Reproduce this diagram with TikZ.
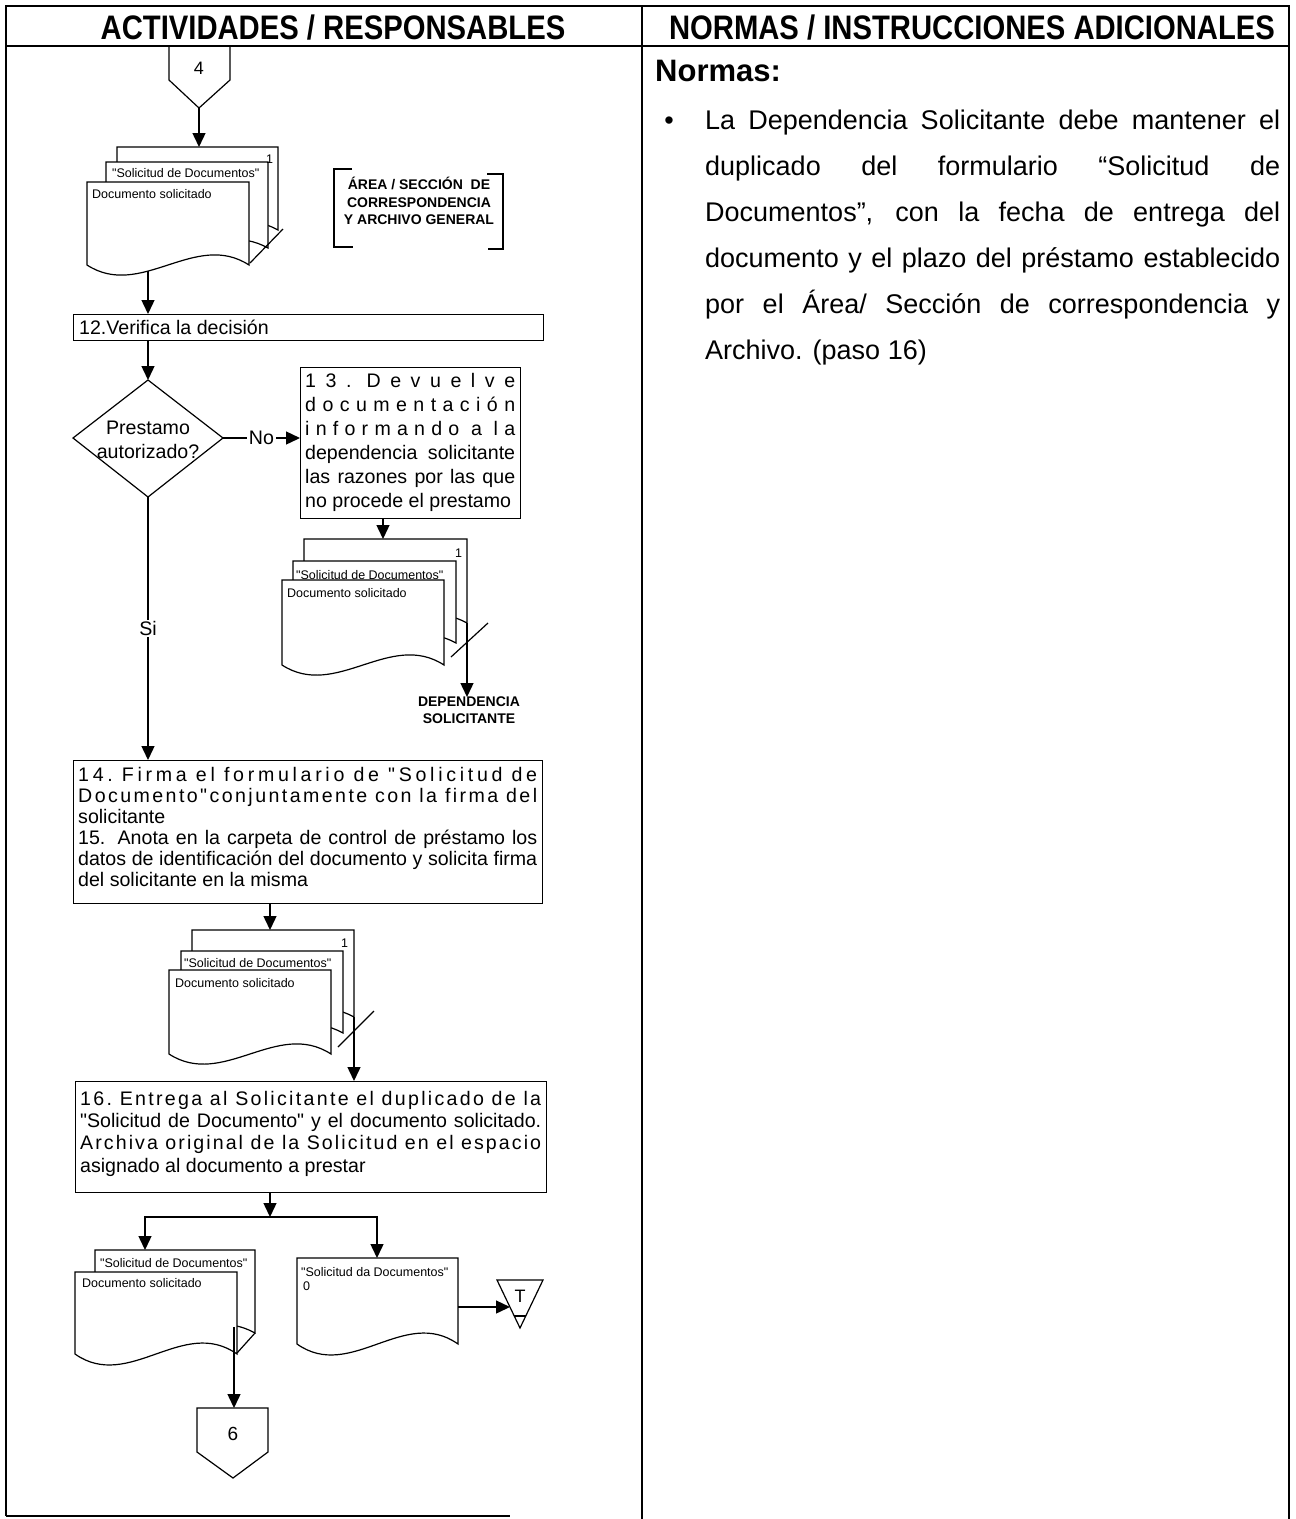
\documentclass[tikz,border=0pt]{standalone}
\usepackage{fontspec}
\setmainfont{Liberation Sans}[Ligatures=TeXOff]
\newfontfamily\hdrfont{Liberation Sans}[FakeStretch=0.86]
\usetikzlibrary{arrows.meta}

\makeatletter
\def\SP@END{\SP@END@}
\let\SP@space=\ %
\def\SP@loop#1{\ifx#1\SP@END\else\ifx#1\SP@space\ \else\hskip0pt plus 1fil\relax#1\fi\expandafter\SP@loop\fi}
\def\SP@first#1{#1\SP@loop}
\newcommand\spreadline[2]{\hbox to #1{\SP@first#2\SP@END}}
\makeatother

\newcommand\docsheet[5]{\draw[sheet] (#1,#2) -- (#1+#3,#2) -- (#1+#3,#4) .. controls (#1+#3*2/3,#4-#5) and (#1+#3/3,#4+#5) .. (#1,#4) -- cycle;}

\tikzset{
 shp/.style={draw, line width=1.2pt},
 box/.style={draw, line width=1.2pt, inner sep=0pt},
 sheet/.style={draw, fill=white, line width=1.2pt},
 arr/.style={-{Triangle[length=14pt,width=13pt]}, line width=1.4pt},
 txt/.style={inner sep=0pt, font=\fontsize{19.6}{21}\selectfont},
 smalltxt/.style={inner sep=0pt, font=\fontsize{12.5}{14}\selectfont, anchor=base west},
 lbl/.style={fill=white, inner sep=1.5pt, font=\fontsize{19.6}{21}\selectfont},
 hdr/.style={inner sep=0pt, font=\hdrfont\bfseries\fontsize{34}{34}\selectfont},
}

\begin{document}
\begin{tikzpicture}[x=1pt,y=-1pt]
\useasboundingbox (0,0) rectangle (1296,1519);
% frame
\draw[line width=2.5pt] (6,1516) -- (6,6) -- (1289,6) -- (1289,1519);
\draw[line width=2.5pt] (6,1516) -- (510,1516);
\draw[line width=2pt] (6,46) -- (1289,46);
\draw[line width=1.3pt] (642,6) -- (642,1519);

% headers
\node[hdr, anchor=base] (h1) at (333,39) {ACTIVIDADES / RESPONSABLES};
\node[hdr, anchor=base] (h2) at (972,39) {NORMAS / INSTRUCCIONES ADICIONALES};

% right column
\node[anchor=base west, inner sep=0pt, font=\bfseries\fontsize{31}{31}\selectfont] (normas) at (655,81) {Normas:};
\node[anchor=base, inner sep=0pt, font=\fontsize{27}{27}\selectfont] (bullet) at (669,129) {•};
\node[anchor=north west, inner sep=0pt, align=left, font=\fontsize{27}{46}\selectfont] (ntext) at (705,109.5) {%
\makebox[575pt][s]{La Dependencia Solicitante debe mantener el}\\
\makebox[575pt][s]{duplicado del formulario “Solicitud de}\\
\makebox[575pt][s]{Documentos”, con la fecha de entrega del}\\
\makebox[575pt][s]{documento y el plazo del préstamo establecido}\\
\makebox[575pt][s]{por el Área/ Sección de correspondencia y}\\
Archivo. (paso 16)};

% connector 4
\draw[shp] (169,46) -- (230,46) -- (230,80) -- (199,108) -- (169,80) -- cycle;
\node[inner sep=0pt, font=\fontsize{18}{18}\selectfont] (c4) at (199,68) {4};
\coordinate (c4tip) at (199,108);

% stack 1
\docsheet{117}{147}{161}{230}{30}
\docsheet{106}{162}{162}{248}{30}
\docsheet{87}{182}{162}{265}{35}
\draw[line width=1.2pt] (283,229) -- (250,263);
\node[smalltxt] (s1n) at (266,163) {1};
\node[smalltxt] (s1a) at (112,177) {"Solicitud de Documentos"};
\node[smalltxt] (s1b) at (92,198) {Documento solicitado};
\coordinate (s1top) at (199,147);
\coordinate (s1bot) at (148,271);
\draw[arr] (c4tip) -- (s1top);

% area bracket
\node[inner sep=0pt, align=center, font=\bfseries\fontsize{14}{17.5}\selectfont] (area) at (419,201) {ÁREA / SECCIÓN\ \ DE\\CORRESPONDENCIA\\Y ARCHIVO GENERAL};
\draw[line width=1.6pt] (352,169) -- (334,169) -- (334,247) -- (353,247);
\draw[line width=1.6pt] (487,174) -- (503,174) -- (503,249) -- (488,249);

% box 12
\node[box, minimum width=470pt, minimum height=26pt, anchor=north west] (b12) at (73,314) {};
\node[txt, anchor=base west] (t12) at (79,334) {12.Verifica la decisión};
\coordinate (b12n) at (148,314);
\coordinate (b12s) at (148,340);
\draw[arr] (s1bot) -- (b12n);

% decision
\draw[shp] (148,380) -- (223,438) -- (148,497) -- (73,438) -- cycle;
\node[txt, align=center, font=\fontsize{19.6}{24}\selectfont] (dec) at (148,440) {Prestamo\\autorizado?};
\coordinate (decN) at (148,380);
\coordinate (decE) at (223,438);
\coordinate (decS) at (148,497);
\draw[arr] (b12s) -- (decN);

% box 13
\node[box, minimum width=220pt, minimum height=151pt, anchor=north west] (b13) at (300,367) {};
\node[txt, anchor=north west, align=left, font=\fontsize{19.6}{24}\selectfont] (t13) at (305,372.7) {%
\spreadline{210pt}{13.\ Devuelve}\\
\spreadline{210pt}{documentación}\\
\spreadline{210pt}{informando\ a\ la}\\
\makebox[210pt][s]{dependencia solicitante}\\
\makebox[210pt][s]{las razones por las que}\\
no procede el prestamo};
\coordinate (b13w) at (300,438);
\coordinate (b13s) at (383,518);
\draw[arr] (decE) -- node[lbl] (no) {No} (b13w);

% stack 2
\docsheet{304}{539}{163}{623}{30}
\docsheet{293}{561}{163}{643}{30}
\docsheet{282}{580}{162}{665}{35}
\node[smalltxt] (s2n) at (455,557) {1};
\node[smalltxt] (s2a) at (296,579) {"Solicitud de Documentos"};
\node[smalltxt] (s2b) at (287,597) {Documento solicitado};
\coordinate (s2top) at (383,539);
\coordinate (s2c) at (467,623);
\draw[arr] (b13s) -- (s2top);
\node[inner sep=0pt, anchor=north, align=center, font=\bfseries\fontsize{14}{17}\selectfont] (dep) at (469,697) {DEPENDENCIA\\SOLICITANTE};
\draw[arr] (s2c) -- (s2c |- dep.north);
\draw[line width=1.2pt] (488,623) -- (451,657);

% box 14
\node[box, minimum width=469pt, minimum height=143pt, anchor=north west] (b14) at (73,760) {};
\node[txt, anchor=north west, align=left] (t14) at (78,766.7) {%
\spreadline{459pt}{14.\ Firma\ el\ formulario\ de\ "Solicitud\ de}\\
\spreadline{459pt}{Documento"conjuntamente\ con\ la\ firma\ del}\\
solicitante\\
\makebox[459pt][s]{15. Anota en la carpeta de control de préstamo los}\\
\makebox[459pt][s]{datos de identificación del documento y solicita firma}\\
del solicitante en la misma};
\coordinate (b14n) at (148,760);
\coordinate (b14s) at (270,903);
\draw[arr] (decS) -- node[lbl] (si) {Si} (b14n);

% stack 3
\docsheet{192}{930}{162}{1017}{30}
\docsheet{181}{951}{162}{1033}{30}
\docsheet{169}{970}{162}{1054}{35}
\node[smalltxt] (s3n) at (341,947) {1};
\node[smalltxt] (s3a) at (184,967) {"Solicitud de Documentos"};
\node[smalltxt] (s3b) at (175,987) {Documento solicitado};
\coordinate (s3top) at (270,930);
\coordinate (s3c) at (354,1017);
\draw[arr] (b14s) -- (s3top);
\draw[line width=1.2pt] (374,1011) -- (338,1047);

% box 16
\node[box, minimum width=471pt, minimum height=111pt, anchor=north west] (b16) at (75,1081) {};
\node[txt, anchor=north west, align=left, font=\fontsize{19.6}{22.3}\selectfont] (t16) at (80,1090.7) {%
\spreadline{461pt}{16.\ Entrega\ al\ Solicitante\ el\ duplicado\ de\ la}\\
\makebox[461pt][s]{"Solicitud de Documento" y el documento solicitado.}\\
\spreadline{461pt}{Archiva\ original\ de\ la\ Solicitud\ en\ el\ espacio}\\
asignado al documento a prestar};
\coordinate (b16n) at (354,1081);
\coordinate (b16s) at (270,1192);
\draw[arr] (s3c) -- (b16n);

% split
\coordinate (j) at (270,1217);
\coordinate (s4top) at (145,1250);
\coordinate (s5top) at (377,1258);
\draw[arr] (b16s) -- (j);
\draw[arr] (j) -| (s4top);
\draw[arr] (j) -| (s5top);

% stack 4 (two sheets)
\docsheet{95}{1250}{160}{1333}{30}
\docsheet{75}{1272}{162}{1354}{38}
\draw[line width=1.2pt] (255,1333) -- (237,1353);
\node[smalltxt] (s4a) at (100,1267) {"Solicitud de Documentos"};
\node[smalltxt] (s4b) at (82,1287) {Documento solicitado};
\coordinate (s4c) at (234,1327);

% connector 6
\draw[shp] (197,1408) -- (268,1408) -- (268,1452) -- (233,1478) -- (197,1452) -- cycle;
\node[inner sep=0pt, font=\fontsize{19}{19}\selectfont] (c6) at (233,1434) {6};
\coordinate (c6top) at (234,1408);
\draw[arr] (s4c) -- (c6top);

% single document
\docsheet{297}{1258}{161}{1344}{38}
\node[smalltxt] (s5a) at (301,1276) {"Solicitud da Documentos"};
\node[smalltxt] (s5b) at (303,1290) {0};
\coordinate (s5r) at (458,1307);

% archive triangle
\draw[shp] (497,1280) -- (543,1280) -- (520,1328) -- cycle;
\draw[line width=1.2pt] (514,1316) -- (526,1316);
\node[inner sep=0pt, font=\fontsize{18}{18}\selectfont] (arch) at (520,1296) {T};
\coordinate (archw) at (510,1307);
\draw[arr] (s5r) -- (archw);
\end{tikzpicture}
\end{document}
